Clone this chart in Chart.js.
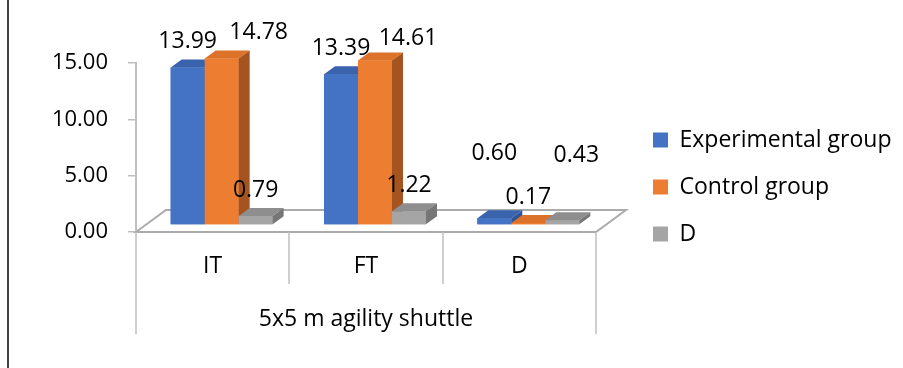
<!DOCTYPE html>
<html>
<head>
<meta charset="utf-8">
<script src="https://cdn.jsdelivr.net/npm/chart.js@4.4.0/dist/chart.umd.min.js"></script>
<style>
    html, body { margin: 0; padding: 0; background: #fff; }
</style>
</head>
<body>
<canvas id="agilityChart" width="903" height="368"></canvas>
<script>
// Chart values
const categories = ['IT', 'FT', 'D'];
const experimentalGroup = [13.99, 13.39, 0.60];
const controlGroup = [14.78, 14.61, 0.17];
const difference = [0.79, 1.22, 0.43];
const seriesNames = ['Experimental group', 'Control group', 'D'];
const groupLabel = '5x5 m agility shuttle';

Chart.defaults.font.family = "'Open Sans', sans-serif";
Chart.defaults.color = '#000';

// Legend sizing: the legend should start at x = 629, so work out the right padding
const legendFontSize = 23;
const legendPadding = 24;
const legendBox = 15;
const measure = document.createElement('canvas').getContext('2d');
measure.font = legendFontSize + "px 'Open Sans', sans-serif";
const longestName = Math.max(...seriesNames.map(s => measure.measureText(s).width));
const legendWidth = legendPadding + legendBox + legendFontSize / 2 + longestName + 10;
const rightPad = Math.max(0, 903 - 629 - legendWidth);

// Draws the floor, the 3D faces of the bars, value labels and the category box
const bars3d = {
    id: 'bars3d',
    beforeDatasetsDraw(chart, args, opts) {
        const { ctx, chartArea: a } = chart;
        ctx.save();
        ctx.strokeStyle = opts.floorColor;
        ctx.lineWidth = 2;
        ctx.beginPath();
        ctx.moveTo(a.left, a.bottom);
        ctx.lineTo(a.left + opts.floor.dx, a.bottom + opts.floor.dy);
        ctx.lineTo(a.right + opts.floor.dx, a.bottom + opts.floor.dy);
        ctx.lineTo(a.right, a.bottom);
        ctx.closePath();
        ctx.stroke();
        ctx.restore();

        // bars stand a little back on the floor
        ctx.save();
        ctx.translate(opts.shift.dx, opts.shift.dy);
    },
    afterDatasetsDraw(chart, args, opts) {
        const ctx = chart.ctx;
        const { dx, dy } = opts.depth;
        chart.data.datasets.forEach((ds, i) => {
            chart.getDatasetMeta(i).data.forEach(bar => {
                bar.draw(ctx);
                const { x, y, base, width } = bar.getProps(['x', 'y', 'base', 'width'], true);
                const l = x - width / 2;
                const r = x + width / 2;

                ctx.fillStyle = ds.topColor;
                ctx.beginPath();
                ctx.moveTo(l, y);
                ctx.lineTo(l + dx, y + dy);
                ctx.lineTo(r + dx, y + dy);
                ctx.lineTo(r, y);
                ctx.closePath();
                ctx.fill();

                ctx.fillStyle = ds.sideColor;
                ctx.beginPath();
                ctx.moveTo(r, y);
                ctx.lineTo(r + dx, y + dy);
                ctx.lineTo(r + dx, base + dy);
                ctx.lineTo(r, base);
                ctx.closePath();
                ctx.fill();
            });
        });
        ctx.restore();
    },
    afterDraw(chart, args, opts) {
        const { ctx, chartArea: a } = chart;
        ctx.save();

        // value labels
        ctx.font = "23px 'Open Sans'";
        ctx.fillStyle = '#000';
        ctx.textAlign = 'center';
        ctx.textBaseline = 'middle';
        chart.data.datasets.forEach((ds, i) => {
            chart.getDatasetMeta(i).data.forEach((bar, j) => {
                const nudge = opts.labelNudge[i + ',' + j] || [0, 0];
                const lx = bar.x + opts.shift.dx + nudge[0];
                const ly = bar.y + opts.shift.dy - 26 + nudge[1];
                ctx.fillText(ds.data[j].toFixed(2), lx, ly);
            });
        });

        // category dividers and outer group box
        ctx.strokeStyle = opts.lineColor;
        ctx.lineWidth = 1.5;
        const n = categories.length;
        const step = (a.right - a.left) / n;
        for (let k = 0; k <= n; k++) {
            const x = Math.round(a.left + k * step);
            const outer = k === 0 || k === n;
            ctx.beginPath();
            ctx.moveTo(x, a.bottom);
            ctx.lineTo(x, a.bottom + (outer ? 102 : 52));
            ctx.stroke();
        }

        // group label under the categories
        ctx.font = "23px 'Open Sans'";
        ctx.fillText(groupLabel, (a.left + a.right) / 2, 319);

        // page border on the left
        ctx.strokeStyle = '#444';
        ctx.lineWidth = 2;
        ctx.beginPath();
        ctx.moveTo(8, 0);
        ctx.lineTo(8, chart.height);
        ctx.stroke();

        ctx.restore();
    }
};

const ctx = document.getElementById('agilityChart').getContext('2d');
const agilityChart = new Chart(ctx, {
    type: 'bar',
    data: {
        labels: categories,
        datasets: [
            {
                label: seriesNames[0],
                data: experimentalGroup,
                backgroundColor: '#4472C4',
                topColor: '#3A63AE',
                sideColor: '#2F5597'
            },
            {
                label: seriesNames[1],
                data: controlGroup,
                backgroundColor: '#ED7D31',
                topColor: '#DD722B',
                sideColor: '#A5541F'
            },
            {
                label: seriesNames[2],
                data: difference,
                backgroundColor: '#A5A5A5',
                topColor: '#8E8E8E',
                sideColor: '#767676'
            }
        ]
    },
    options: {
        responsive: false,
        animation: false,
        datasets: {
            bar: {
                categoryPercentage: 0.665,
                barPercentage: 1,
                borderWidth: 0,
                clip: false
            }
        },
        layout: {
            padding: { top: 63, bottom: 57, left: 52, right: rightPad }
        },
        scales: {
            x: {
                grid: { display: false, drawTicks: false },
                border: { display: false },
                ticks: { padding: 21, color: '#000', font: { size: 23 } },
                afterFit: scale => { scale.height = 79; }
            },
            y: {
                min: 0,
                max: 15,
                grid: {
                    drawOnChartArea: false,
                    drawTicks: true,
                    tickLength: 8,
                    color: '#BFBFBF',
                    lineWidth: 1.5
                },
                border: { color: '#BFBFBF', width: 2 },
                ticks: {
                    stepSize: 5,
                    padding: 20,
                    color: '#000',
                    font: { size: 22 },
                    callback: value => value.toFixed(2)
                },
                afterFit: scale => { scale.width = 84; }
            },
            gap: {
                type: 'linear',
                position: 'right',
                grid: { display: false },
                border: { display: false },
                ticks: { display: false },
                // keeps the chart area's right edge at the floor corner
                afterFit: scale => { scale.width = 903 - rightPad - legendWidth - 596; }
            }
        },
        plugins: {
            legend: {
                position: 'right',
                maxWidth: 400,
                labels: {
                    boxWidth: legendBox,
                    boxHeight: legendBox,
                    padding: legendPadding,
                    color: '#000',
                    font: { size: legendFontSize }
                }
            },
            tooltip: { enabled: false },
            bars3d: {
                floor: { dx: 30, dy: -22 },
                shift: { dx: 9, dy: -7 },
                depth: { dx: 11, dy: -8 },
                floorColor: '#ABABAB',
                lineColor: '#BFBFBF',
                labelNudge: {
                    '1,0': [37, 0],
                    '1,1': [33, 4],
                    '0,2': [0, -39],
                    '2,2': [14, -39]
                }
            }
        }
    },
    plugins: [bars3d]
});
</script>
</body>
</html>
